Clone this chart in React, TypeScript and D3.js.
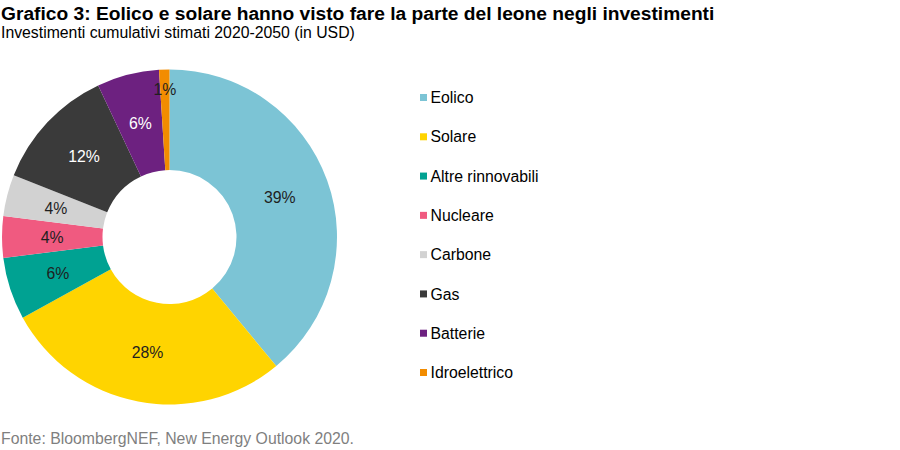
import React, { useEffect, useRef } from "react";
import * as d3 from "d3";

const categories = [
  "Eolico",
  "Solare",
  "Altre rinnovabili",
  "Nucleare",
  "Carbone",
  "Gas",
  "Batterie",
  "Idroelettrico",
];
const shares = [39, 28, 6, 4, 4, 12, 6, 1];
const colors = [
  "#7cc4d5",
  "#ffd400",
  "#00a292",
  "#f05a80",
  "#d2d2d2",
  "#3a3a3a",
  "#6d2180",
  "#f28c00",
];
const labelColors = [
  "#1f1f1f",
  "#1f1f1f",
  "#1f1f1f",
  "#1f1f1f",
  "#1f1f1f",
  "#ffffff",
  "#ffffff",
  "#1f1f1f",
];

const W = 900;
const H = 450;
const FONT = "'Liberation Sans', Arial, sans-serif";
const FS = "15.8px";

export default function App() {
  const svgRef = useRef<SVGSVGElement>(null);

  useEffect(() => {
    if (!svgRef.current) return;
    const svg = d3.select(svgRef.current);
    svg.selectAll("*").remove();

    svg.append("rect").attr("width", W).attr("height", H).attr("fill", "#fff");

    // titles
    svg
      .append("text")
      .attr("x", 1)
      .attr("y", 20)
      .style("font-family", FONT)
      .style("font-size", "19.2px")
      .style("font-weight", "bold")
      .attr("fill", "#000")
      .text("Grafico 3: Eolico e solare hanno visto fare la parte del leone negli investimenti");

    svg
      .append("text")
      .attr("x", 1)
      .attr("y", 38)
      .style("font-family", FONT)
      .style("font-size", FS)
      .attr("fill", "#000")
      .text("Investimenti cumulativi stimati 2020-2050 (in USD)");

    const cx = 169.5;
    const cy = 237;
    const outer = 167.5;
    const inner = 67;

    const data = categories.map((c, i) => ({ name: c, value: shares[i], i }));

    const pie = d3
      .pie<any>()
      .value((d) => d.value)
      .sort(null);

    const arc = d3.arc<any>().innerRadius(inner).outerRadius(outer);
    const arcs = pie(data);

    const g = svg.append("g").attr("transform", `translate(${cx},${cy})`);

    g.selectAll("path")
      .data(arcs)
      .enter()
      .append("path")
      .attr("d", arc)
      .attr("fill", (d) => colors[d.data.i]);

    // small slices get their label pushed outward
    const labelArc = (d: any) => {
      if (d.data.value < 2) {
        const a = (d.startAngle + d.endAngle) / 2;
        const r = 148;
        return [Math.sin(a) * r, -Math.cos(a) * r];
      }
      return arc.centroid(d);
    };

    g.selectAll("text.lbl")
      .data(arcs)
      .enter()
      .append("text")
      .attr("class", "lbl")
      .attr("transform", (d) => `translate(${labelArc(d)})`)
      .attr("text-anchor", "middle")
      .attr("dy", "0.36em")
      .style("font-family", FONT)
      .style("font-size", FS)
      .attr("fill", (d) => labelColors[d.data.i])
      .text((d) => `${d.data.value}%`);

    // legend
    const legendY = d3
      .scalePoint<string>()
      .domain(categories)
      .range([97.5, 372.5]);

    const lg = svg.append("g");
    const items = lg
      .selectAll("g")
      .data(categories)
      .enter()
      .append("g")
      .attr("transform", (d) => `translate(420,${legendY(d)})`);

    items
      .append("rect")
      .attr("x", 0)
      .attr("y", -3.5)
      .attr("width", 7)
      .attr("height", 7)
      .attr("fill", (d, i) => colors[i]);

    items
      .append("text")
      .attr("x", 10.5)
      .attr("dy", "0.36em")
      .style("font-family", FONT)
      .style("font-size", FS)
      .attr("fill", "#000")
      .text((d) => d);

    svg
      .append("text")
      .attr("x", 1)
      .attr("y", 444)
      .style("font-family", FONT)
      .style("font-size", FS)
      .attr("fill", "#7f7f7f")
      .text("Fonte: BloombergNEF, New Energy Outlook 2020.");
  }, []);

  return (
    <svg
      ref={svgRef}
      width={W}
      height={H}
      style={{ position: "absolute", left: 0, top: 0, display: "block" }}
    />
  );
}
